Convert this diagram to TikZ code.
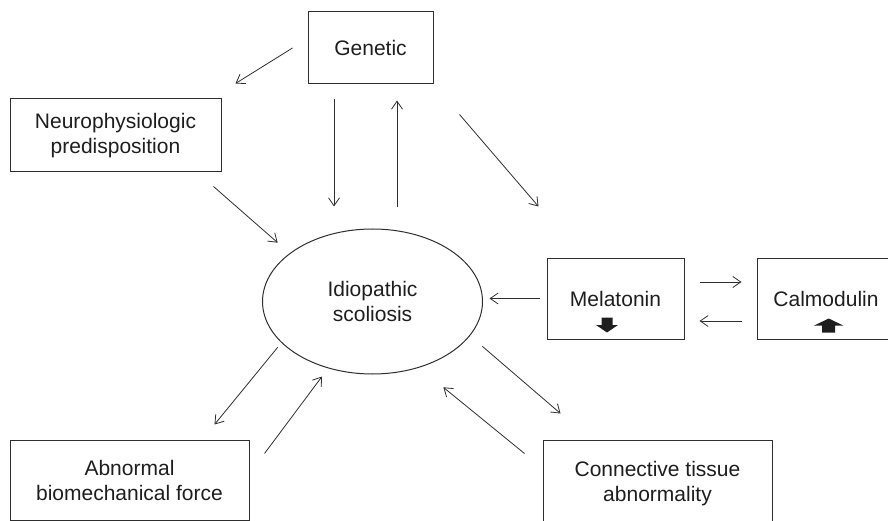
\documentclass[tikz,border=0pt]{standalone}
\usepackage{fontspec}
\setmainfont{Liberation Sans}
\usetikzlibrary{shapes.geometric,arrows.meta}
\definecolor{linegray}{HTML}{2E2E2E}
\definecolor{textgray}{HTML}{1E1E1E}
\tikzset{
  factor/.style={draw=linegray, line width=1pt, text=textgray, align=center,
    inner sep=0pt, font=\fontsize{21}{25}\selectfont},
  link/.style={->, draw=linegray, line width=0.8pt},
  levelarrow/.style={fill=textgray, draw=none}
}
\begin{document}
\begin{tikzpicture}[x=1pt, y=-1pt, >={Straight Barb[length=8pt,width=11pt]}]
    \useasboundingbox (0,0) rectangle (888,521);

    % Factors
    \node[factor, minimum width=125pt, minimum height=72pt] (gen) at (370.5,48) {Genetic};
    \node[factor, minimum width=211pt, minimum height=73pt] (neu) at (115.5,135.5) {Neurophysiologic\\predisposition};
    \node[factor, ellipse, minimum width=220pt, minimum height=145pt] (ell) at (372.5,301.5) {Idiopathic\\scoliosis};
    \node[factor, minimum width=137pt, minimum height=81pt] (mel) at (615.5,298.5) {Melatonin};
    \node[factor, minimum width=138pt, minimum height=81pt] (cal) at (826,298.5) {Calmodulin};
    \node[factor, minimum width=239pt, minimum height=80pt] (abn) at (129.5,480) {Abnormal\\biomechanical force};
    \node[factor, minimum width=229pt, minimum height=88pt] (con) at (657.5,484) {Connective tissue\\abnormality};

    % Level arrows
    \begin{scope}[shift={(mel.center)}]
        \fill[levelarrow] (-14,19) -- (-3,19) -- (-3,26.5) -- (2.5,26.5) -- (-8.5,34) -- (-19.5,26.5) -- (-14,26.5) -- cycle;
    \end{scope}
    \begin{scope}[shift={(cal.center)}]
        \fill[levelarrow] (2.7,20) -- (17.2,27) -- (9.2,27) -- (9.2,34) -- (-3.8,34) -- (-3.8,27) -- (-11.8,27) -- cycle;
    \end{scope}

    % Links around the genetic factor
    \draw[link] ([xshift=-15pt]gen.west) -- ([xshift=14pt,yshift=15pt]neu.north east);
    \draw[link] ([xshift=-36.5pt,yshift=-15pt]gen.south) -- ([xshift=-38.5pt,yshift=22pt]ell.north);
    \draw[link] ([xshift=24.5pt,yshift=21pt]ell.north) -- ([xshift=26.5pt,yshift=-16pt]gen.south);
    \draw[link] ([xshift=26pt,yshift=-30pt]gen.south east) -- ([xshift=-8pt,yshift=51pt]mel.north west);

    % Links into the scoliosis node
    \draw[link] ([xshift=-8pt,yshift=-14pt]neu.south east) -- ([xshift=-16.7pt,yshift=7.2pt]ell.north west);
    \draw[link] ([xshift=-7pt]mel.west) -- ([xshift=6.5pt,yshift=3pt]ell.east);

    % Melatonin and calmodulin
    \draw[link] ([xshift=15pt,yshift=16.5pt]mel.east) -- ([xshift=-15pt,yshift=16.5pt]cal.west);
    \draw[link] ([xshift=-15pt,yshift=-22.5pt]cal.west) -- ([xshift=15pt,yshift=-22.5pt]mel.east);

    % Lower links
    \draw[link] ([xshift=-16.7pt,yshift=5.8pt]ell.south west) -- ([xshift=-35pt,yshift=15pt]abn.north east);
    \draw[link] ([xshift=15pt,yshift=-14pt]abn.north east) -- ([xshift=-50.5pt,yshift=-2pt]ell.south);
    \draw[link] ([xshift=31.7pt,yshift=6.8pt]ell.south east) -- ([xshift=18pt,yshift=26pt]con.north west);
    \draw[link] ([xshift=-18pt,yshift=-14pt]con.north west) -- ([xshift=-7.3pt,yshift=-34.2pt]ell.south east);

\end{tikzpicture}
\end{document}
